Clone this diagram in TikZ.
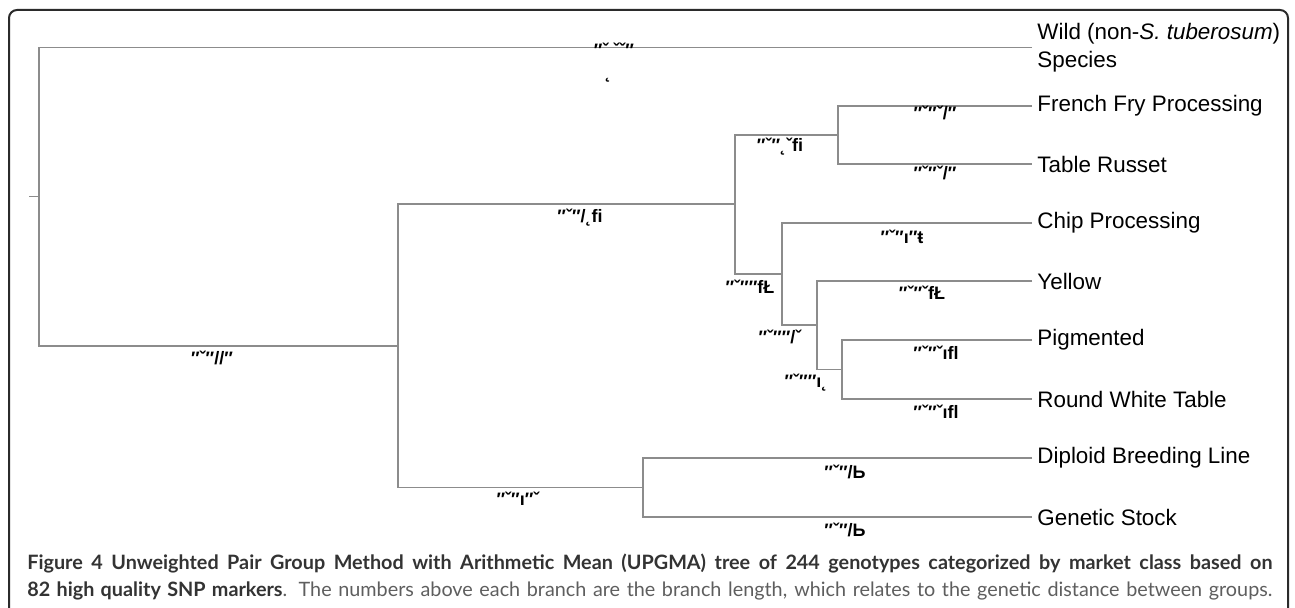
\documentclass[tikz,border=0pt]{standalone}
\usepackage{fontspec}
\setmainfont{Liberation Sans}
\newfontfamily\capfont{Lato}
\usetikzlibrary{positioning}

\definecolor{treegray}{HTML}{8C8C8C}
\definecolor{framegray}{HTML}{2B2B2B}
\definecolor{capdark}{HTML}{333333}
\definecolor{caplight}{HTML}{5E5E5E}

\begin{document}
\begin{tikzpicture}[
  x=0.5pt, y=-0.5pt,
  branch/.style={draw=treegray, line width=0.6pt},
  leaf/.style={anchor=west, inner xsep=2.5pt, inner ysep=0pt, align=left,
    font=\fontsize{11.2}{14}\selectfont},
  blen/.style={font=\bfseries\fontsize{9}{10}\selectfont, inner sep=0pt},
  capline/.style={anchor=west, inner sep=0pt, font=\capfont\fontsize{9.9}{13.5}\selectfont}
]
  \useasboundingbox (0,0) rectangle (1295,608);

  % frame (open at the bottom)
  \draw[framegray, line width=1pt, rounded corners=4pt]
    (9,608) -- (9,10) -- (1288,10) -- (1288,608);

  % market classes
  \node[leaf] (wild) at (1032,47.5) {Wild (non-\textit{S. tuberosum})\\Species};
  \node[leaf] (ffp)  at (1032,106) {French Fry Processing};
  \node[leaf] (tr)   at (1032,164) {Table Russet};
  \node[leaf] (chip) at (1032,223) {Chip Processing};
  \node[leaf] (yel)  at (1032,281) {Yellow};
  \node[leaf] (pig)  at (1032,340) {Pigmented};
  \node[leaf] (rwt)  at (1032,399) {Round White Table};
  \node[leaf] (dip)  at (1032,458) {Diploid Breeding Line};
  \node[leaf] (gs)   at (1032,517) {Genetic Stock};

  % internal nodes of the tree
  \coordinate (D) at (838,135);
  \coordinate (G) at (842,369.5);
  \coordinate (F) at (817,325);
  \coordinate (E) at (782,274);
  \coordinate (C) at (735,204);
  \coordinate (H) at (643,487.5);
  \coordinate (B) at (398,346);
  \coordinate (R) at (39,196.75);
  \coordinate (stub) at (29,196.75);

  % branches
  \draw[branch] (ffp.west) -| (D) |- (tr.west);
  \draw[branch] (pig.west) -| (G) |- (rwt.west);
  \draw[branch] (yel.west) -| (F) |- (G);
  \draw[branch] (chip.west) -| (E) |- (F);
  \draw[branch] (D) -| (C) |- (E);
  \draw[branch] (dip.west) -| (H) |- (gs.west);
  \draw[branch] (C) -| (B) |- (H);
  \draw[branch] (wild.west) -| (R) |- (B);
  \draw[branch] (stub) -- (R);

  % branch lengths (as printed)
  \node[blen, align=center] (l-wild) at (614,63) {″ˇ ˇˇ″\\[1pt]˛\hspace*{6pt}};
  \node[blen] (l-rb)   at (212,358) {″ˇ″//″};
  \node[blen] (l-bc)   at (580,218) {″ˇ″/˛ﬁ};
  \node[blen] (l-cd)   at (780,147) {″ˇ″˛ˇﬁ};
  \node[blen] (l-ffp)  at (935,113) {″ˇ″ˇ/″};
  \node[blen] (l-tr)   at (935,173) {″ˇ″ˇ/″};
  \node[blen] (l-ce)   at (750,287) {″ˇ″″fŁ};
  \node[blen] (l-chip) at (902,237) {″ˇ″ı″ŧ};
  \node[blen] (l-ef)   at (780,337) {″ˇ″″/ˇ};
  \node[blen] (l-yel)  at (922,293) {″ˇ″ˇfŁ};
  \node[blen] (l-fg)   at (806,383) {″ˇ″″ı˛};
  \node[blen] (l-pig)  at (936,353) {″ˇ″ˇıﬂ};
  \node[blen] (l-rwt)  at (936,412) {″ˇ″ˇıﬂ};
  \node[blen] (l-bh)   at (518,499) {″ˇ″ı″ˇ};
  \node[blen] (l-dip)  at (845,472) {″ˇ″/Ь};
  \node[blen] (l-gs)   at (845,530) {″ˇ″/Ь};

  % caption
  \node[capline] (cap1) at (27,564) {\makebox[622.5pt][s]{\color{capdark}\bfseries
    Figure 4 Unweighted Pair Group Method with Arithmetic Mean (UPGMA) tree of 244 genotypes categorized by market class based on}};
  \node[capline] (cap2) at (27,591) {\makebox[622.5pt][s]{{\color{capdark}\bfseries 82 high quality SNP markers}\color{caplight}.
    The numbers above each branch are the branch length, which relates to the genetic distance between groups.}};
\end{tikzpicture}
\end{document}
